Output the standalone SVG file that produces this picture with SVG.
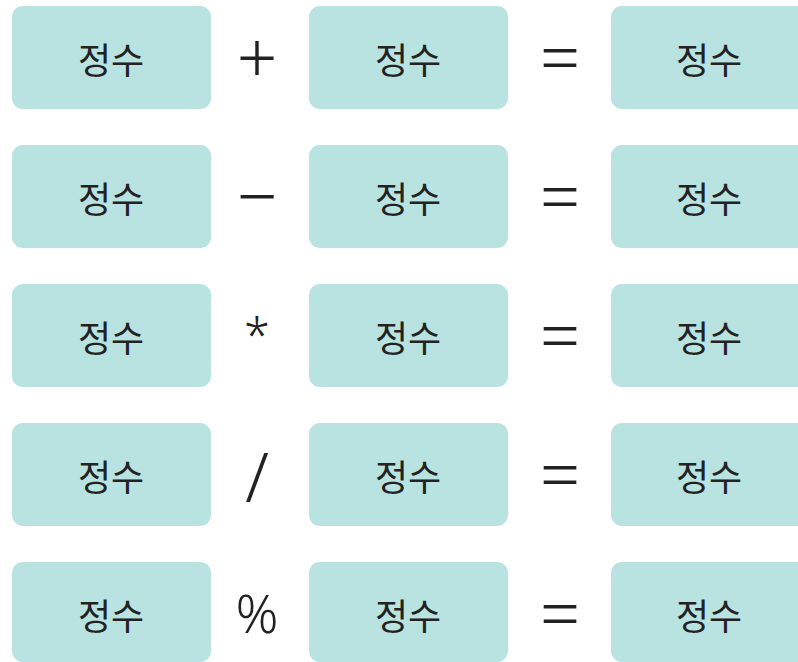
<svg xmlns="http://www.w3.org/2000/svg" width="798" height="662" viewBox="0 0 798 662">
<style>
.box{fill:#b8e3e0;}
.t{font-family:"Noto Sans CJK KR","Noto Sans",sans-serif;font-size:36px;fill:#222;text-anchor:middle;dominant-baseline:central;}
.op{font-family:"Noto Sans","Noto Sans CJK KR",sans-serif;font-weight:300;fill:#222;text-anchor:middle;dominant-baseline:central;}
.big{font-size:71px;}
.sl{font-size:68px;}
.ast{font-size:47px;}
.pc{font-size:53px;}
</style>
<rect width="798" height="662" fill="#fff"/>
<g id="row1">
<g id="n1a"><rect class="box" x="12" y="6" width="199" height="103" rx="11"/><text class="t" x="111" y="58">정수</text></g>
<g id="op1a"><text class="op big" x="257" y="55">+</text></g>
<g id="n1b"><rect class="box" x="309" y="6" width="199" height="103" rx="11"/><text class="t" x="408" y="58">정수</text></g>
<g id="op1b"><text class="op big" x="560" y="55">=</text></g>
<g id="n1c"><rect class="box" x="611" y="6" width="199" height="103" rx="11"/><text class="t" x="709" y="58">정수</text></g>
</g>
<g id="row2">
<g id="n2a"><rect class="box" x="12" y="145" width="199" height="103" rx="11"/><text class="t" x="111" y="197">정수</text></g>
<g id="op2a"><text class="op big" x="257" y="194">−</text></g>
<g id="n2b"><rect class="box" x="309" y="145" width="199" height="103" rx="11"/><text class="t" x="408" y="197">정수</text></g>
<g id="op2b"><text class="op big" x="560" y="194">=</text></g>
<g id="n2c"><rect class="box" x="611" y="145" width="199" height="103" rx="11"/><text class="t" x="709" y="197">정수</text></g>
</g>
<g id="row3">
<g id="n3a"><rect class="box" x="12" y="284" width="199" height="103" rx="11"/><text class="t" x="111" y="336">정수</text></g>
<g id="op3a"><text class="op ast" x="257" y="334">*</text></g>
<g id="n3b"><rect class="box" x="309" y="284" width="199" height="103" rx="11"/><text class="t" x="408" y="336">정수</text></g>
<g id="op3b"><text class="op big" x="560" y="333">=</text></g>
<g id="n3c"><rect class="box" x="611" y="284" width="199" height="103" rx="11"/><text class="t" x="709" y="336">정수</text></g>
</g>
<g id="row4">
<g id="n4a"><rect class="box" x="12" y="423" width="199" height="103" rx="11"/><text class="t" x="111" y="475">정수</text></g>
<g id="op4a"><text class="op sl" x="257" y="475">/</text></g>
<g id="n4b"><rect class="box" x="309" y="423" width="199" height="103" rx="11"/><text class="t" x="408" y="475">정수</text></g>
<g id="op4b"><text class="op big" x="560" y="472">=</text></g>
<g id="n4c"><rect class="box" x="611" y="423" width="199" height="103" rx="11"/><text class="t" x="709" y="475">정수</text></g>
</g>
<g id="row5">
<g id="n5a"><rect class="box" x="12" y="562" width="199" height="100" rx="11"/><text class="t" x="111" y="614">정수</text></g>
<g id="op5a"><text class="op pc" x="257" y="612">%</text></g>
<g id="n5b"><rect class="box" x="309" y="562" width="199" height="100" rx="11"/><text class="t" x="408" y="614">정수</text></g>
<g id="op5b"><text class="op big" x="560" y="611">=</text></g>
<g id="n5c"><rect class="box" x="611" y="562" width="199" height="100" rx="11"/><text class="t" x="709" y="614">정수</text></g>
</g>
<g id="connectors"/>
</svg>
